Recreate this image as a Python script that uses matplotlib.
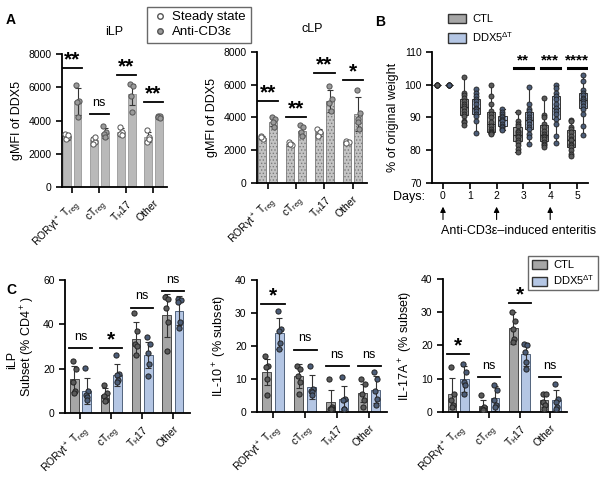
import numpy as np
import matplotlib
matplotlib.use("Agg")
import matplotlib.pyplot as plt
from matplotlib.lines import Line2D
from matplotlib.patches import Patch

plt.rcParams['font.family'] = ['Liberation Sans', 'DejaVu Sans']
plt.rcParams['mathtext.default'] = 'regular'
plt.rcParams['hatch.linewidth'] = 0.6

# categorias
cats = ['RORγt$^+$ T$_{reg}$', 'cT$_{reg}$', 'T$_H$17', 'Other']

# Panel A - iLP gMFI
ilp_ss_mean = [3050, 2830, 3300, 3000]
ilp_ss_sd = [200, 180, 250, 280]
ilp_ss_pts = [[3200, 3000, 2900, 3100], [2900, 2700, 2600, 3000], [3600, 3300, 3200, 3100], [3400, 3000, 2700, 2900]]
ilp_cd3_mean = [5150, 3250, 5570, 4200]
ilp_cd3_sd = [800, 300, 650, 80]
ilp_cd3_pts = [[6150, 5200, 5100, 4200], [3700, 3300, 3200, 3000], [6200, 6100, 5500, 4500], [4300, 4250, 4200, 4150]]
ilp_sig = ['**', 'ns', '**', '**']
ilp_sig_y = [7150, 4380, 6720, 5100]

# Panel A - cLP gMFI
clp_ss_mean = [2780, 2400, 3100, 2520]
clp_ss_sd = [80, 120, 200, 80]
clp_ss_pts = [[2850, 2700, 2800], [2500, 2300, 2400], [3300, 3100, 2900], [2600, 2500, 2450]]
clp_cd3_mean = [3750, 3200, 5000, 4200]
clp_cd3_sd = [250, 280, 650, 1050]
clp_cd3_pts = [[4000, 3900, 3700, 3400], [3550, 3400, 3100, 2900], [5900, 5100, 4900, 4400], [5700, 4300, 3900, 3300, 3700]]
clp_sig = ['**', '**', '**', '*']
clp_sig_y = [5000, 4050, 6720, 6300]

# Panel B - peso
days = [0, 1, 2, 3, 4, 5]
w_ctl = [
    [100, 100, 100, 100, 100, 100],
    [102.4, 97.5, 96.8, 96, 95, 94, 93.5, 93, 92, 91, 90.5, 89, 88.5, 87.7],
    [100, 96.5, 94, 92, 91, 90, 88.5, 87.5, 86.5, 86, 85.6, 85.3, 85.2, 85],
    [91.8, 89, 88, 87.5, 86, 85.5, 85, 84.5, 84, 83.2, 82.5, 81.5, 80.5, 79.5],
    [95.9, 90.8, 90, 88, 87, 86, 85, 84.5, 84, 83.5, 82.5, 82, 81.5, 81.1],
    [89.3, 88.8, 87, 86.5, 85.5, 84.5, 83.5, 83, 82, 81.5, 81, 80, 79, 78.3],
]
w_ddx5 = [
    [100, 100, 100, 100, 100, 100],
    [98.6, 97.5, 96.5, 95.5, 95, 94, 93, 92.5, 92, 91, 90.5, 89, 85.3],
    [92.7, 91.8, 91, 90.5, 90, 89.5, 89.2, 88.8, 88, 87.5, 87, 86.5, 86.1],
    [99.3, 94, 92.5, 92, 91, 90, 89.5, 89, 88, 87, 86.5, 85, 84, 81.8],
    [100, 99, 97.5, 96.5, 95.5, 94, 93, 92, 91, 89.5, 88, 84.5, 82.1],
    [103, 101, 98.5, 97.5, 97, 96, 95.5, 95, 94.5, 93.5, 92.5, 91, 87.5, 84.8],
]
w_sig = ['', '', '', '**', '***', '****']
injection_days = [0, 2, 4]

# Panel C - iLP subsets
sub_ctl_mean = [15.3, 8.2, 33.5, 44]
sub_ctl_sd = [6, 3, 7.5, 9.5]
sub_ctl_pts = [[23.5, 20, 14, 10, 9], [12.5, 9, 7.5, 6, 5.5], [45, 37, 31, 30, 26], [52.5, 51.5, 47.5, 41, 28]]
sub_ddx_mean = [10, 17, 26.2, 46.2]
sub_ddx_sd = [6, 5, 6, 6.5]
sub_ddx_pts = [[20.5, 10, 8, 7, 6], [26, 17.5, 17, 15, 14], [34.5, 31, 27, 22, 16.5], [51.5, 51, 50, 41, 38.5]]
sub_sig = ['ns', '*', 'ns', 'ns']
sub_sig_y = [29.1, 29.1, 47.5, 55]

il10_ctl_mean = [12.2, 10.8, 3, 5.8]
il10_ctl_sd = [4, 3.6, 3.8, 2.8]
il10_ctl_pts = [[17, 14, 13.5, 10, 5], [14, 13, 11, 9, 5.5], [10, 1.5, 1, 1, 1], [10, 8.5, 5.5, 3.5, 1.5]]
il10_ddx_mean = [23.8, 7.6, 4, 6.8]
il10_ddx_sd = [4.7, 3.7, 3.9, 4]
il10_ddx_pts = [[30.5, 25, 24.5, 21, 19], [14, 7, 6.5, 6, 5], [10.5, 4, 3.5, 1, 1], [12, 10, 6.5, 4, 2]]
il10_sig = ['*', 'ns', 'ns', 'ns']
il10_sig_y = [32.7, 18.9, 14, 14]

il17_ctl_mean = [5.5, 1.9, 25.2, 3.5]
il17_ctl_sd = [4.7, 1.6, 4.8, 2]
il17_ctl_pts = [[13.5, 5.5, 3.5, 2, 1.5], [5, 1.5, 1, 0.5, 0.5], [30, 27.5, 25, 22, 21], [5.5, 5.5, 3, 2, 1]]
il17_ddx_mean = [9.9, 4.1, 17.3, 3.5]
il17_ddx_sd = [3.8, 3.8, 3.4, 3]
il17_ddx_pts = [[14.5, 12, 9, 8, 5.5], [8, 6.5, 3.5, 2, 1.5], [20.5, 20, 18, 15, 13], [8.5, 4, 3, 1.5, 1]]
il17_sig = ['*', 'ns', '*', 'ns']
il17_sig_y = [17.5, 10.5, 32.8, 10.5]

GRAY_BAR = '#b9b9b9'
CTL_BAR = '#a6a6a6'
DDX_BAR = '#b4c6e4'
CTL_PT = '#5a5a5a'
DDX_PT = '#4c5d78'
jit = [-0.05, 0.05, -0.025, 0.025, 0.0]

fig = plt.figure(figsize=(6, 4.84), dpi=100)


def style_ax(ax):
    for s in ['top', 'right']:
        ax.spines[s].set_visible(False)
    ax.spines['left'].set_linewidth(1.3)
    ax.spines['bottom'].set_linewidth(1.3)
    ax.tick_params(width=1.2, length=4, labelsize=7.5)


def grouped(ax, m1, s1, p1, m2, s2, p2, c1, c2, pc1, pc2, pe, hatch=None, ec1='k', ec2='k', ms=4):
    x = np.arange(len(m1))
    for off, m, s, p, c, pc, ec in [(-0.2, m1, s1, p1, c1, pc1, ec1), (0.2, m2, s2, p2, c2, pc2, ec2)]:
        ax.bar(x + off, m, width=0.28, color=c, edgecolor=ec, linewidth=0.6, hatch=hatch, zorder=1)
        ax.errorbar(x + off, m, yerr=s, fmt='none', ecolor='#333333', elinewidth=0.8, capsize=2, capthick=0.8, zorder=2)
        for i, pts in enumerate(p):
            xs = [x[i] + off + jit[k % 5] for k in range(len(pts))]
            ax.scatter(xs, pts, s=ms * 3.5, color=pc, edgecolor=pe, linewidth=0.7, zorder=3)
    ax.set_xticks(x)
    ax.set_xticklabels(cats, rotation=45, ha='right', rotation_mode='anchor', fontsize=8.5)


def sig_marks(ax, labels, ys, yr):
    for i, (lab, y) in enumerate(zip(labels, ys)):
        if not lab:
            continue
        ax.plot([i - 0.36, i + 0.36], [y, y], color='k', lw=1.3, clip_on=False)
        if lab == 'ns':
            ax.text(i, y + yr * 0.04, lab, ha='center', va='bottom', fontsize=9)
        else:
            ax.text(i, y - yr * 0.01, lab, ha='center', va='bottom', fontsize=15, fontweight='bold')


# ---- A iLP
ax1 = fig.add_axes([0.1033, 0.6136, 0.175, 0.2748])
grouped(ax1, ilp_ss_mean, ilp_ss_sd, ilp_ss_pts, ilp_cd3_mean, ilp_cd3_sd, ilp_cd3_pts,
        GRAY_BAR, GRAY_BAR, 'white', '#9a9a9a', '#555555', ec1='#999999', ec2='#999999')
ax1.set_ylim(0, 8000)
ax1.set_xlim(-0.38, 3.5)
ax1.set_yticks([0, 2000, 4000, 6000, 8000])
ax1.set_ylabel('gMFI of DDX5', fontsize=9)
ax1.set_title('iLP', fontsize=9, pad=14)
style_ax(ax1)
sig_marks(ax1, ilp_sig, ilp_sig_y, 8000)

# ---- A cLP
ax2 = fig.add_axes([0.4283, 0.6213, 0.1833, 0.2719])
grouped(ax2, clp_ss_mean, clp_ss_sd, clp_ss_pts, clp_cd3_mean, clp_cd3_sd, clp_cd3_pts,
        '#c4c4c4', '#c4c4c4', 'white', '#9a9a9a', '#555555', hatch='.....', ec1='#7a7a7a', ec2='#7a7a7a')
ax2.set_ylim(0, 8000)
ax2.set_xlim(-0.38, 3.5)
ax2.set_yticks([0, 2000, 4000, 6000, 8000])
ax2.set_ylabel('gMFI of DDX5', fontsize=9)
ax2.set_title('cLP', fontsize=9, pad=14)
style_ax(ax2)
sig_marks(ax2, clp_sig, clp_sig_y, 8000)

legA = [Line2D([], [], marker='o', ls='none', mfc='white', mec='#555555', ms=4, label='Steady state'),
        Line2D([], [], marker='o', ls='none', mfc='#9a9a9a', mec='#555555', ms=4, label='Anti-CD3ε')]
fig.legend(handles=legA, loc='upper left', bbox_to_anchor=(140 / 600, 1 - 0 / 484), fontsize=9.5,
           frameon=True, fancybox=False, edgecolor='#444444', handletextpad=0.3, borderpad=0.35,
           labelspacing=0.2, handlelength=1.3)

# ---- B
ax3 = fig.add_axes([0.72, 0.6219, 0.26, 0.2707])
for d in days:
    for off, data, fc, ec, pc in [(-0.22, w_ctl[d], CTL_BAR, '#333333', CTL_PT), (0.22, w_ddx5[d], DDX_BAR, '#333333', DDX_PT)]:
        ax3.boxplot([data], positions=[d + off], widths=0.3, whis=(0, 100), patch_artist=True,
                    showfliers=False, manage_ticks=False,
                    boxprops=dict(facecolor=fc, edgecolor=ec, linewidth=0.7),
                    medianprops=dict(color=ec, linewidth=0.8),
                    whiskerprops=dict(color=ec, linewidth=0.8), capprops=dict(color=ec, linewidth=0.8))
        ax3.scatter([d + off] * len(data), data, s=13, color=pc, edgecolor='#222222', linewidth=0.6, zorder=3)
    if w_sig[d]:
        ax3.plot([d - 0.35, d + 0.35], [105.1, 105.1], color='k', lw=2.2)
        ax3.text(d, 105.4, w_sig[d], ha='center', va='bottom', fontsize=11, fontweight='bold')
ax3.set_ylim(70, 110)
ax3.set_xlim(-0.41, 5.41)
ax3.set_yticks([70, 80, 90, 100, 110])
ax3.set_xticks(days)
ax3.set_ylabel('% of original weight', fontsize=9)
style_ax(ax3)
ax3.tick_params(axis='x', labelsize=7.5, pad=2)
fig.text(425 / 600, 1 - 197 / 484, 'Days:', ha='right', va='center', fontsize=9)
for d in injection_days:
    ax3.annotate('', xy=(d, -0.16), xytext=(d, -0.3), xycoords=ax3.get_xaxis_transform(),
                 textcoords=ax3.get_xaxis_transform(),
                 arrowprops=dict(arrowstyle='-|>', color='k', lw=0.8, mutation_scale=8))
fig.text(519 / 600, 1 - 231 / 484, 'Anti-CD3ε–induced enteritis', ha='center', va='center', fontsize=9)
legB = [Patch(facecolor=CTL_BAR, edgecolor='#333333', label='CTL'),
        Patch(facecolor=DDX_BAR, edgecolor='#333333', label='DDX5$^{ΔT}$')]
fig.legend(handles=legB, loc='upper left', bbox_to_anchor=(438 / 600, 1 - 4 / 484), fontsize=8,
           frameon=False, handletextpad=0.6, labelspacing=0.5, handlelength=1.6, handleheight=0.9)

# ---- C
panels_c = [
    ([0.1083, 0.1467, 0.2083, 0.2748], sub_ctl_mean, sub_ctl_sd, sub_ctl_pts, sub_ddx_mean, sub_ddx_sd, sub_ddx_pts,
     sub_sig, sub_sig_y, 60, [0, 20, 40, 60], 'Subset (% CD4$^+$)'),
    ([0.4283, 0.1488, 0.2167, 0.2727], il10_ctl_mean, il10_ctl_sd, il10_ctl_pts, il10_ddx_mean, il10_ddx_sd, il10_ddx_pts,
     il10_sig, il10_sig_y, 40, [0, 10, 20, 30, 40], 'IL-10$^+$ (% subset)'),
    ([0.7383, 0.1488, 0.2067, 0.2748], il17_ctl_mean, il17_ctl_sd, il17_ctl_pts, il17_ddx_mean, il17_ddx_sd, il17_ddx_pts,
     il17_sig, il17_sig_y, 40, [0, 10, 20, 30, 40], 'IL-17A$^+$ (% subset)'),
]
for pos, m1, s1, p1, m2, s2, p2, sg, sgy, ymax, yt, ylab in panels_c:
    ax = fig.add_axes(pos)
    grouped(ax, m1, s1, p1, m2, s2, p2, CTL_BAR, DDX_BAR, CTL_PT, DDX_PT, '#222222',
            ec1='#333333', ec2='#3d4f6a')
    ax.set_ylim(0, ymax)
    ax.set_xlim(-0.5, 3.55)
    ax.set_yticks(yt)
    ax.set_ylabel(ylab, fontsize=9)
    style_ax(ax)
    sig_marks(ax, sg, sgy, ymax)

fig.text(12 / 600, 1 - 360 / 484, 'iLP', rotation=90, ha='center', va='center', fontsize=9)
legC = [Patch(facecolor=CTL_BAR, edgecolor='#333333', label='CTL'),
        Patch(facecolor=DDX_BAR, edgecolor='#333333', label='DDX5$^{ΔT}$')]
fig.legend(handles=legC, loc='upper right', bbox_to_anchor=(1.0, 1 - 254 / 484), fontsize=8,
           frameon=True, fancybox=False, edgecolor='#444444', handletextpad=0.5, labelspacing=0.3,
           handlelength=1.4, handleheight=0.9, borderpad=0.3, borderaxespad=0.2)

# letras
fig.text(6 / 600, 1 - 20 / 484, 'A', fontsize=10, fontweight='bold', va='center')
fig.text(375 / 600, 1 - 22 / 484, 'B', fontsize=10, fontweight='bold', va='center')
fig.text(6 / 600, 1 - 290 / 484, 'C', fontsize=10, fontweight='bold', va='center')

fig.savefig('out.png', dpi=100)
